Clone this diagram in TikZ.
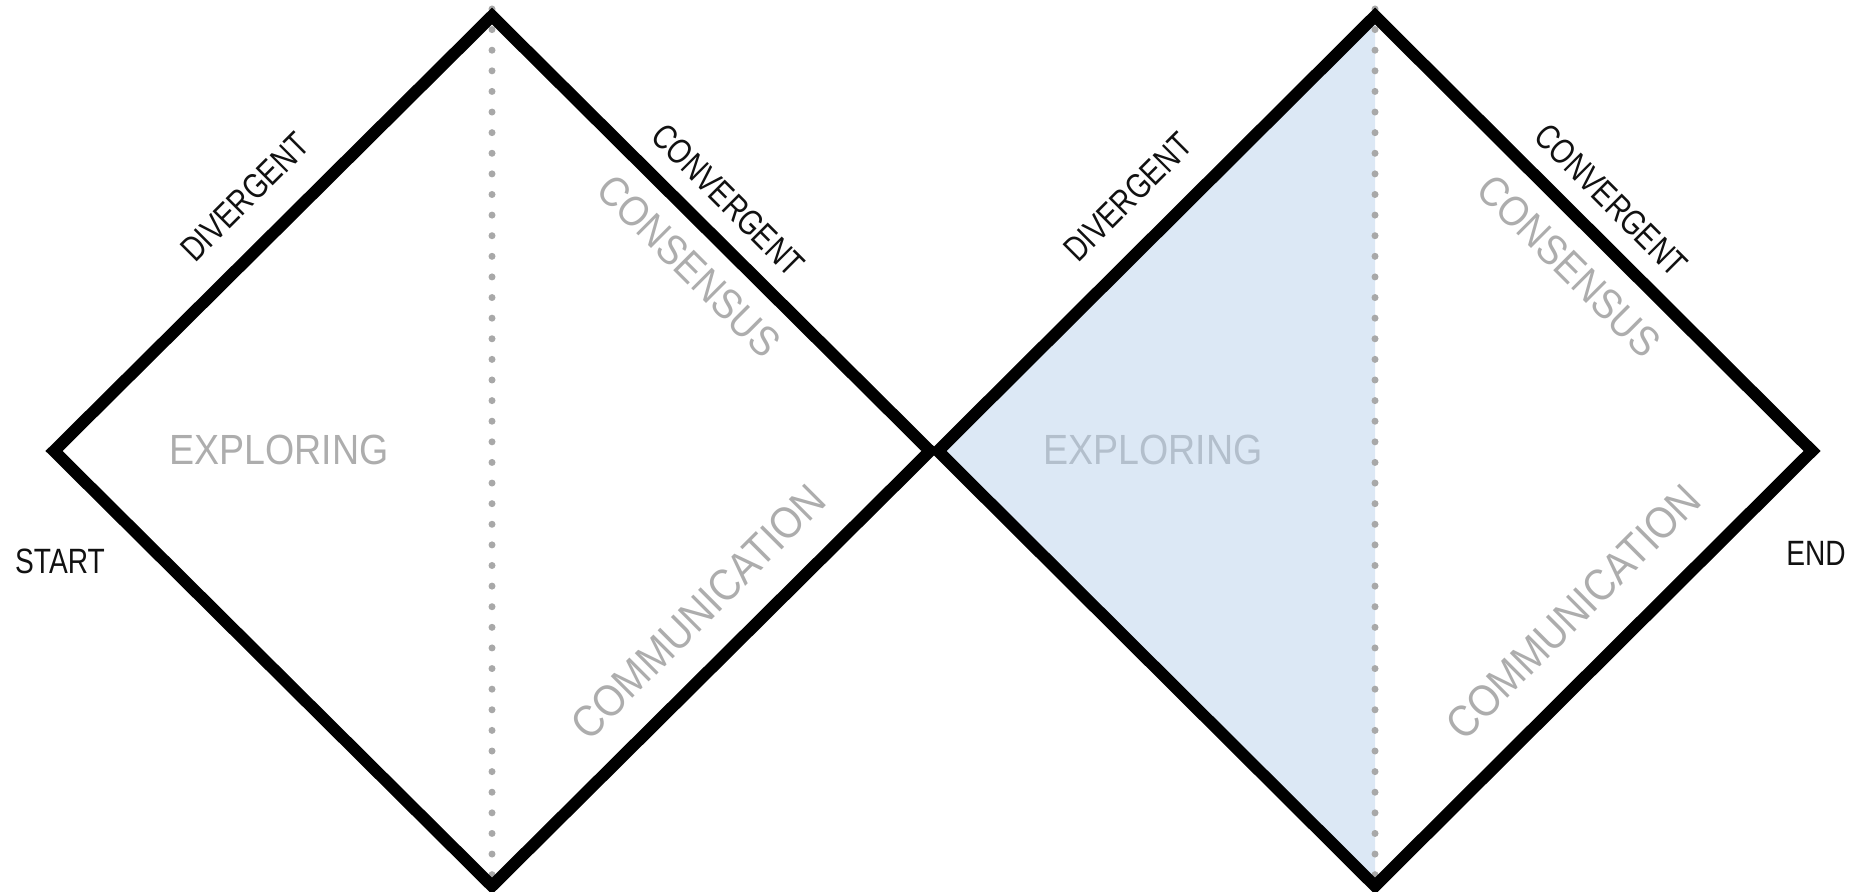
\documentclass[tikz,border=0pt]{standalone}
\usepackage{fontspec}
\setmainfont{Liberation Sans}
\newfontfamily\tagfont[FakeStretch=0.8]{Liberation Sans}
\newfontfamily\phasefont[FakeStretch=0.89]{Liberation Sans}
\usepackage{tikz}
\usetikzlibrary{positioning}
\definecolor{ink}{HTML}{000000}
\definecolor{tagink}{HTML}{111111}
\definecolor{dotgrey}{HTML}{A8A8A8}
\definecolor{phasegrey}{HTML}{ADADAD}
\definecolor{phaseblue}{HTML}{B3BFCC}
\definecolor{bluepale}{HTML}{DCE8F5}

\begin{document}
\begin{tikzpicture}[x=0.01cm,y=-0.01cm,
  edge/.style={draw=ink,line width=0.12cm,line join=miter},
  axis/.style={draw=dotgrey,line width=0.07cm,line cap=round,dash pattern=on 0pt off 0.206cm},
  tag/.style={font=\tagfont\fontsize{10}{12}\selectfont,text=tagink,inner sep=0pt},
  phase/.style={font=\phasefont\fontsize{12}{14}\selectfont,text=phasegrey,inner sep=0pt}]
  \useasboundingbox (0,0) rectangle (1870,892);
  % corners of the two diamonds
  \coordinate (w1) at (54,451);  \coordinate (n1) at (492,16);
  \coordinate (e1) at (930,451); \coordinate (s1) at (492,886);
  \coordinate (w2) at (938,451); \coordinate (n2) at (1375,16);
  \coordinate (e2) at (1812,451);\coordinate (s2) at (1375,886);
  \fill[bluepale] (w2) -- (n2) -- (s2) -- cycle;
  \draw[axis] (492,9) coordinate (a1) -- (492,880) coordinate (b1);
  \draw[axis] (1375,9) coordinate (a2) -- (1375,880) coordinate (b2);
  \draw[edge] (w1) -- (n1) -- (e1) -- (s1) -- cycle;
  \draw[edge] (w2) -- (n2) -- (e2) -- (s2) -- cycle;
  % labels
  \node[tag] (start) at (60,561) {START};
  \node[tag] (end) at (1816,553) {END};
  \node[tag,rotate=45] (div1) at (245,197) {DIVERGENT};
  \node[tag,rotate=-45] (conv1) at (728,200) {CONVERGENT};
  \node[tag,rotate=45] (div2) at (1128,197) {DIVERGENT};
  \node[tag,rotate=-45] (conv2) at (1611,200) {CONVERGENT};
  \node[phase] (expl1) at (279,450) {EXPLORING};
  \node[phase,text=phaseblue] (expl2) at (1153,450) {EXPLORING};
  \node[phase,rotate=-45] (cons1) at (689,266) {CONSENSUS};
  \node[phase,rotate=-45] (cons2) at (1569,266) {CONSENSUS};
  \node[phase,rotate=45,font=\phasefont\fontsize{12.6}{14}\selectfont] (comm1) at (698,612) {COMMUNICATION};
  \node[phase,rotate=45,font=\phasefont\fontsize{12.6}{14}\selectfont] (comm2) at (1573,612) {COMMUNICATION};
\end{tikzpicture}
\end{document}
